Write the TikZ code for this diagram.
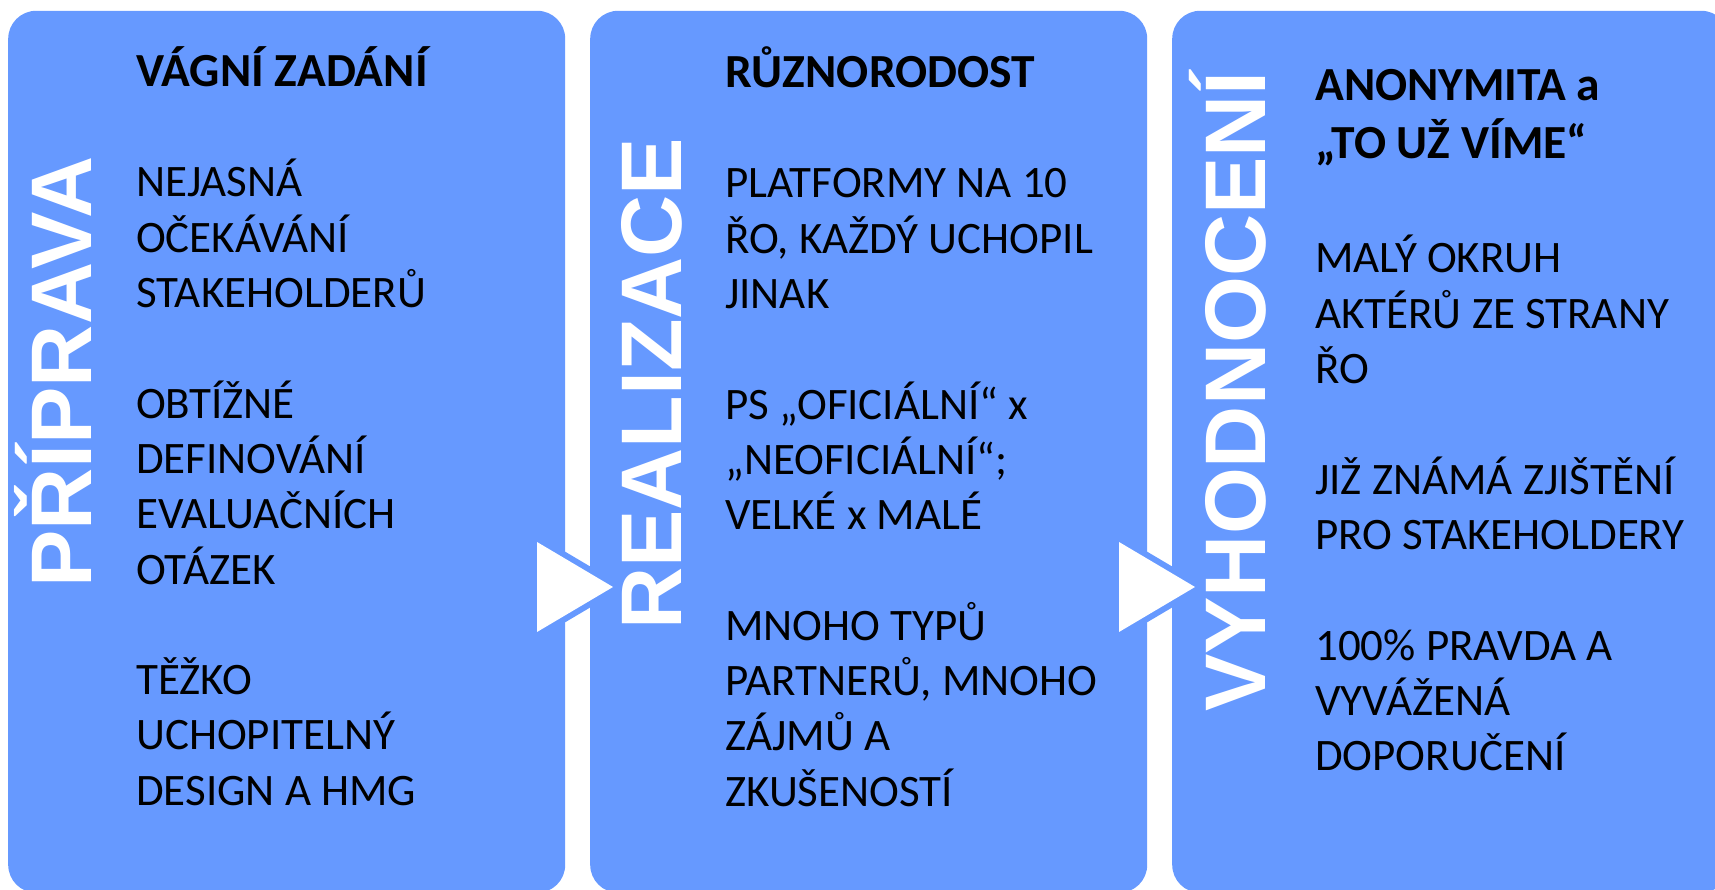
\documentclass[tikz,border=0pt]{standalone}
\usepackage{fontspec}
\setmainfont{Carlito}
\newfontfamily\labelfont{Liberation Sans}
\definecolor{boxblue}{RGB}{102,153,255}
\newcommand{\headtext}[1]{{\fontsize{47.5}{55.3}\selectfont\bfseries #1}}

\begin{document}
\begin{tikzpicture}[x=1pt, y=1pt,
                    box_style/.style={fill=boxblue, rounded corners=28pt, anchor=south west,
                                      minimum width=557pt, minimum height=882pt, inner sep=0pt},
                    label_style/.style={rotate=90, anchor=base west, inner sep=0pt, text=white,
                                        font=\labelfont\bfseries\fontsize{86}{92}\selectfont},
                    text_style/.style={anchor=north west, inner sep=0pt, align=left,
                                       font=\fontsize{45}{55.3}\selectfont},
                    arrow_style/.style={draw=boxblue, fill=white, line width=12pt, line join=round}
   ]
   \useasboundingbox (0,0) rectangle (1715,890);
   % Columns
   \node[box_style] (prep) at (8,-3) {};
   \node[box_style] (real) at (590,-3) {};
   \node[box_style] (eval) at (1172,-3) {};

   % Arrows between columns
   \filldraw[arrow_style] (537,348) -- (613,303) -- (537,258) -- cycle;
   \fill[white] (537,348) -- (613,303) -- (537,258) -- cycle;
   \filldraw[arrow_style] (1119,348) -- (1195,303) -- (1119,258) -- cycle;
   \fill[white] (1119,348) -- (1195,303) -- (1119,258) -- cycle;

   % Phase labels
   \node[label_style] (prep_label) at (91,302) {PŘÍPRAVA};
   \node[label_style] (real_label) at (681,260) {REALIZACE};
   \node[label_style] (eval_label) at (1265,178) {VYHODNOCENÍ};

   % Texts
   \node[text_style] (prep_text) at (136,843.7) {\strut\headtext{VÁGNÍ ZADÁNÍ}\\ \\
      NEJASNÁ\\ OČEKÁVÁNÍ\\ STAKEHOLDERŮ\\ \\
      OBTÍŽNÉ\\ DEFINOVÁNÍ\\ EVALUAČNÍCH\\ OTÁZEK\\ \\
      TĚŽKO\\ UCHOPITELNÝ\\ DESIGN A HMG};
   \node[text_style] (real_text) at (725,843.7) {\strut\headtext{RŮZNORODOST}\\ \\
      PLATFORMY NA 10\\ ŘO, KAŽDÝ UCHOPIL\\ JINAK\\ \\
      PS „OFICIÁLNÍ“ x\\ „NEOFICIÁLNÍ“;\\ VELKÉ x MALÉ\\ \\
      MNOHO TYPŮ\\ PARTNERŮ, MNOHO\\ ZÁJMŮ A\\ ZKUŠENOSTÍ};
   \node[text_style] (eval_text) at (1315,828) {\strut\headtext{ANONYMITA a}\\ \headtext{„TO UŽ VÍME“}\\[4pt] \\
      MALÝ OKRUH\\ AKTÉRŮ ZE STRANY\\ ŘO\\ \\
      JIŽ ZNÁMÁ ZJIŠTĚNÍ\\ PRO STAKEHOLDERY\\ \\
      100\% PRAVDA A\\ VYVÁŽENÁ\\ DOPORUČENÍ};
\end{tikzpicture}
\end{document}
